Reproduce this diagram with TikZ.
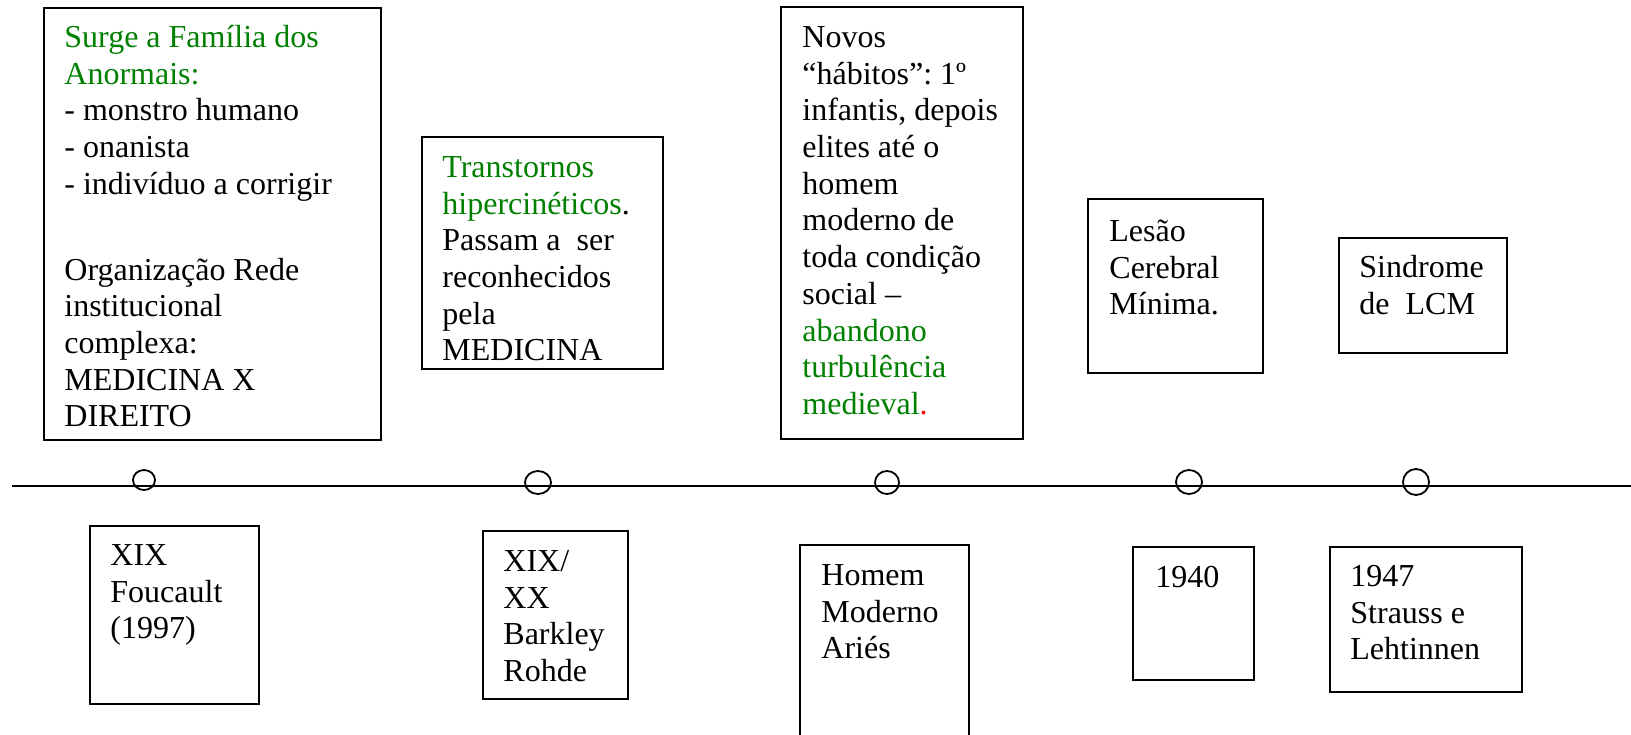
\documentclass[tikz,border=0pt]{standalone}
\usepackage{fontspec}
\setmainfont{Liberation Serif}
\usetikzlibrary{shapes.geometric}
\definecolor{wgreen}{RGB}{0,128,0}
\definecolor{wred}{RGB}{255,0,0}
\frenchspacing
\begin{document}
\begin{tikzpicture}[x=0.5pt,y=-0.5pt,
  box/.style={draw=black, line width=0.9pt, rectangle, anchor=north west, inner sep=0pt, fill=white},
  txt/.style={anchor=north west, inner sep=0pt, align=left, font=\fontsize{16}{18.35}\selectfont},
  ring/.style={draw=black, line width=0.9pt, ellipse, inner sep=0pt}]
\useasboundingbox (0,0) rectangle (1631,734);
\clip (0,0) rectangle (1631,734);
% timeline
\coordinate (L) at (12,486);
\coordinate (R) at (1631,486);
\draw[line width=1pt] (L) -- (R);
\node[ring, minimum width=11pt, minimum height=10pt] (k1) at (144,480) {};
\node[ring, minimum width=13pt, minimum height=11.5pt] (k2) at (538,482.5) {};
\node[ring, minimum width=12pt, minimum height=11.5pt] (k3) at (887,482.5) {};
\node[ring, minimum width=13pt, minimum height=12pt] (k4) at (1189,482) {};
\node[ring, minimum width=13pt, minimum height=13pt] (k5) at (1416,482) {};
% top boxes
\node[box, minimum width=168.5pt, minimum height=216pt] (b1) at (43,7) {};
\node[box, minimum width=120.5pt, minimum height=116pt] (b2) at (421,136) {};
\node[box, minimum width=121pt, minimum height=216pt] (b3) at (780,6) {};
\node[box, minimum width=87.5pt, minimum height=87pt] (b4) at (1087,198) {};
\node[box, minimum width=84pt, minimum height=57.5pt] (b5) at (1338,237) {};
% bottom boxes
\node[box, minimum width=84.5pt, minimum height=89pt] (c1) at (89,525) {};
\node[box, minimum width=72.5pt, minimum height=84pt] (c2) at (482,530) {};
\node[box, minimum width=84.5pt, minimum height=108pt] (c3) at (799,544) {};
\node[box, minimum width=60.5pt, minimum height=66.5pt] (c4) at (1132,546) {};
\node[box, minimum width=96pt, minimum height=72.5pt] (c5) at (1329,546) {};
% top texts
\node[txt] (t1) at (64,21) {\rule{0pt}{13pt}\textcolor{wgreen}{Surge a Família dos}\\
\textcolor{wgreen}{Anormais:}\\
- monstro humano\\
- onanista\\
- indivíduo a corrigir\\[24.6pt]
Organização Rede\\
institucional\\
complexa:\\
MEDICINA X\\
DIREITO};
\node[txt] (t2) at (442,151) {\rule{0pt}{13pt}\textcolor{wgreen}{Transtornos}\\
\textcolor{wgreen}{hipercinéticos}.\\
Passam a\ \ ser\\
reconhecidos\\
pela\\
MEDICINA};
\node[txt] (t3) at (802,21) {\rule{0pt}{13pt}Novos\\
“hábitos”: 1º\\
infantis, depois\\
elites até o\\
homem\\
moderno de\\
toda condição\\
social –\\
\textcolor{wgreen}{abandono}\\
\textcolor{wgreen}{turbulência}\\
\textcolor{wgreen}{medieval}\textcolor{wred}{.}};
\node[txt] (t4) at (1109,215) {\rule{0pt}{13pt}Lesão\\
Cerebral\\
Mínima.};
\node[txt] (t5) at (1359,251) {\rule{0pt}{13pt}Sindrome\\
de\ \ LCM};
% bottom texts
\node[txt] (u1) at (110,539) {\rule{0pt}{13pt}XIX\\
Foucault\\
(1997)};
\node[txt] (u2) at (503,545) {\rule{0pt}{13pt}XIX/\\
XX\\
Barkley\\
Rohde};
\node[txt] (u3) at (821,559) {\rule{0pt}{13pt}Homem\\
Moderno\\
Ariés};
\node[txt] (u4) at (1155,561) {\rule{0pt}{13pt}1940};
\node[txt] (u5) at (1350,560) {\rule{0pt}{13pt}1947\\
Strauss e\\
Lehtinnen};
\end{tikzpicture}
\end{document}
